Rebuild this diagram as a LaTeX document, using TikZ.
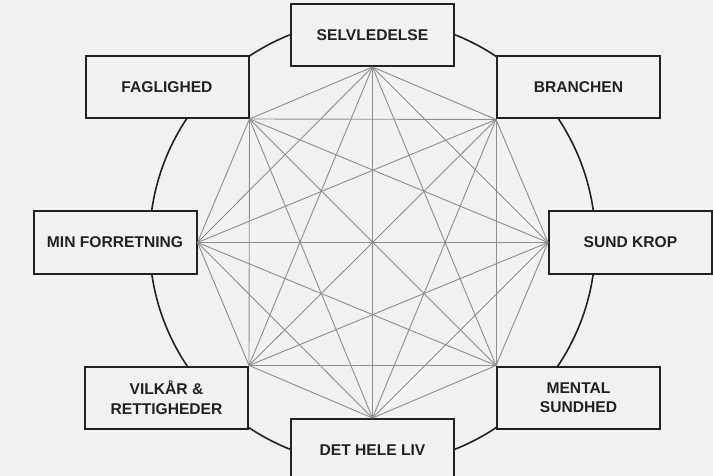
\documentclass[tikz,border=0pt]{standalone}
\usepackage{fontspec}
\setmainfont{Liberation Sans}
\definecolor{bg}{HTML}{F2F2F2}
\definecolor{ink}{HTML}{222222}
\definecolor{web}{HTML}{8E8E8E}
\begin{document}
\begin{tikzpicture}[x=1pt,y=-1pt,
  box/.style={draw=ink, line width=2pt, fill=bg, minimum width=163pt, minimum height=62pt,
    inner sep=0pt, align=center, font=\fontsize{15.6}{19.5}\selectfont\bfseries, text=ink},
  webline/.style={draw=web, line width=0.9pt},
  ring/.style={draw=ink, line width=1.6pt}]
\useasboundingbox (0,0) rectangle (713,476);
\clip (0,0) rectangle (713,476);
\fill[bg] (0,0) rectangle (713,476);
\coordinate (c) at (372.5,242);
\draw[ring] (c) circle [radius=223pt];
\node[box] (S)  at (372.5,35)   {SELVLEDELSE};
\node[box] (F)  at (167,87)     {FAGLIGHED};
\node[box] (B)  at (578.5,87.5) {BRANCHEN};
\node[box] (Mi) at (115,242.5)  {MIN FORRETNING};
\node[box] (K)  at (630.5,242.5){SUND KROP};
\node[box] (V)  at (166.5,397.5){VILKÅR \&\\RETTIGHEDER};
\node[box] (M)  at (578.5,397.5){MENTAL\\SUNDHED};
\node[box] (D)  at (372.5,450)  {DET HELE LIV};
\coordinate (p1) at (S.south);
\coordinate (p2) at (B.south west);
\coordinate (p3) at (K.west);
\coordinate (p4) at (M.north west);
\coordinate (p5) at (D.north);
\coordinate (p6) at (V.north east);
\coordinate (p7) at (Mi.east);
\coordinate (p8) at (F.south east);
\foreach \i in {1,...,8}{\foreach \j in {1,...,8}{\ifnum\i<\j \draw[webline] (p\i) -- (p\j);\fi}}
\end{tikzpicture}
\end{document}
